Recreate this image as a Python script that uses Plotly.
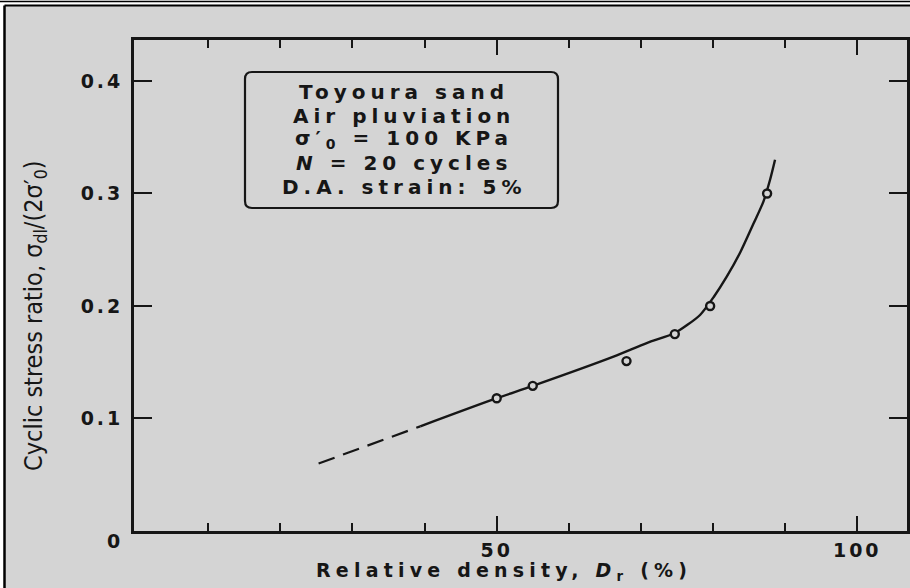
import plotly.graph_objects as go

# Cyclic triaxial results, Toyoura sand
DR_TEST = [50.0, 55.0, 68.0, 74.7, 79.6, 87.5]
CSR_TEST = [0.118, 0.129, 0.151, 0.175, 0.200, 0.300]

# Fitted trend (solid) and its extrapolation (dashed)
DR_SOLID = [39.4, 50.0, 55.0, 66.2, 70.8, 74.7, 76.4, 78.2, 80.1, 81.9, 83.8, 85.6, 87.0, 87.9, 88.6]
CSR_SOLID = [0.093, 0.118, 0.129, 0.155, 0.167, 0.176, 0.183, 0.192, 0.208, 0.226, 0.248, 0.273, 0.293, 0.312, 0.330]
DR_DASH = [25.3, 39.4]
CSR_DASH = [0.060, 0.093]

X_TICKS = [50, 100]
X_TICK_TEXT = ["50", "100"]
X_MINOR = [10, 20, 30, 40, 60, 70, 80, 90]
Y_TICKS = [0.1, 0.2, 0.3, 0.4]
Y_TICK_TEXT = ["0.1", "0.2", "0.3", "0.4"]

BOX_LINES = [
    "Toyoura sand",
    "Air pluviation",
    "σ′<sub>0</sub> = 100 KPa",
    "<i>N</i> = 20 cycles",
    "D.A. strain: 5%",
]

W, H = 910, 588
ML, MR, MT, MB = 134, 3, 40, 57
PW, PH = W - ML - MR, H - MT - MB

INK = "#161616"
BG = "#d4d4d4"
FONT = "DejaVu Sans"


def px(x):
    return (x - ML) / PW


def py(y):
    return (H - MB - y) / PH


def wide(txt, sp):
    return f'<span style="letter-spacing:{sp}px">{txt}</span>'


fig = go.Figure()

fig.add_trace(go.Scatter(
    x=DR_DASH, y=CSR_DASH, mode="lines",
    line=dict(color=INK, width=2.2, dash="17px,9px"),
    hoverinfo="skip", showlegend=False,
))
fig.add_trace(go.Scatter(
    x=DR_SOLID, y=CSR_SOLID, mode="lines",
    line=dict(color=INK, width=2.4, shape="spline", smoothing=0.8),
    hoverinfo="skip", showlegend=False,
))
fig.add_trace(go.Scatter(
    x=DR_TEST, y=CSR_TEST, mode="markers",
    marker=dict(symbol="circle", size=8, color=BG, line=dict(color=INK, width=2.4)),
    showlegend=False,
))

# Rounded box around the test conditions
bx0, bx1, by0, by1, r = px(245), px(558), py(72), py(208), 7
rx, ry = r / PW, r / PH
box_path = (
    f"M {bx0 + rx} {by0} L {bx1 - rx} {by0} Q {bx1} {by0} {bx1} {by0 - ry} "
    f"L {bx1} {by1 + ry} Q {bx1} {by1} {bx1 - rx} {by1} "
    f"L {bx0 + rx} {by1} Q {bx0} {by1} {bx0} {by1 + ry} "
    f"L {bx0} {by0 - ry} Q {bx0} {by0} {bx0 + rx} {by0} Z"
)

shapes = [
    dict(type="path", xref="paper", yref="paper", path=box_path,
         line=dict(color=INK, width=2.2), fillcolor="rgba(0,0,0,0)", layer="above"),
    # outer frame
    dict(type="rect", xref="paper", yref="paper", x0=px(0), x1=px(5), y0=py(H + 2), y1=py(0),
         line=dict(width=0), fillcolor="white", layer="below"),
    dict(type="rect", xref="paper", yref="paper", x0=px(0), x1=px(W + 2), y0=py(5), y1=py(0),
         line=dict(width=0), fillcolor="white", layer="below"),
    dict(type="line", xref="paper", yref="paper", x0=px(4.5), x1=px(W + 5), y0=py(5.5), y1=py(5.5),
         line=dict(color="black", width=2)),
    dict(type="line", xref="paper", yref="paper", x0=px(0), x1=px(W + 5), y0=py(1.5), y1=py(1.5),
         line=dict(color="black", width=1.5)),
    dict(type="line", xref="paper", yref="paper", x0=px(4.5), x1=px(4.5), y0=py(5.5), y1=py(H + 5),
         line=dict(color="black", width=2.5)),
]

annotations = []
line_y = [92, 115.5, 139, 163, 187]
for txt, yy in zip(BOX_LINES, line_y):
    annotations.append(dict(
        text=wide(txt, 5), xref="paper", yref="paper", x=px(404), y=py(yy),
        xanchor="center", yanchor="middle", showarrow=False,
        font=dict(family=FONT, size=20, color=INK, weight="bold"),
    ))

annotations += [
    dict(text="0", xref="paper", yref="paper", x=px(113), y=py(541),
         xanchor="center", yanchor="middle", showarrow=False,
         font=dict(family=FONT, size=19, color=INK, weight="bold")),
    dict(text=wide("Relative density, <i>D</i><sub>r</sub> (%)", 5.2), xref="paper", yref="paper",
         x=px(504), y=py(571), xanchor="center", yanchor="middle", showarrow=False,
         font=dict(family=FONT, size=19, color=INK, weight="bold")),
    dict(text="Cyclic stress ratio, σ<sub>dl</sub>/(2σ′<sub>0</sub>)", xref="paper", yref="paper",
         x=px(35), y=py(315), xanchor="center", yanchor="middle", showarrow=False,
         textangle=-90,
         font=dict(family="Liberation Sans Narrow, DejaVu Sans Condensed, Liberation Sans",
                   size=25, color=INK)),
]

fig.update_layout(
    width=W, height=H,
    margin=dict(l=ML, r=MR, t=MT, b=MB, pad=0, autoexpand=False),
    paper_bgcolor=BG, plot_bgcolor=BG,
    shapes=shapes, annotations=annotations,
    font=dict(family=FONT, color=INK),
)

fig.update_xaxes(
    range=[-0.3, 106.9], tickvals=X_TICKS, ticktext=[wide(t, 3) for t in X_TICK_TEXT],
    ticks="inside", ticklen=15, tickwidth=2, tickcolor=INK,
    minor=dict(tickvals=X_MINOR, ticks="inside", ticklen=8, tickwidth=2, tickcolor=INK),
    showline=True, linewidth=2.5, linecolor=INK, mirror="ticks",
    showgrid=False, zeroline=False, automargin=False,
    tickfont=dict(family=FONT, size=19, color=INK, weight="bold"),
    ticklabelstandoff=0,
)
fig.update_yaxes(
    range=[0, 0.4364], tickvals=Y_TICKS, ticktext=[wide(t, 3) for t in Y_TICK_TEXT],
    ticks="inside", ticklen=18, tickwidth=2, tickcolor=INK,
    showline=True, linewidth=2.8, linecolor=INK, mirror="ticks",
    showgrid=False, zeroline=False, automargin=False,
    tickfont=dict(family=FONT, size=19, color=INK, weight="bold"),
    ticklabelstandoff=4,
)

fig.write_html("out.html")
